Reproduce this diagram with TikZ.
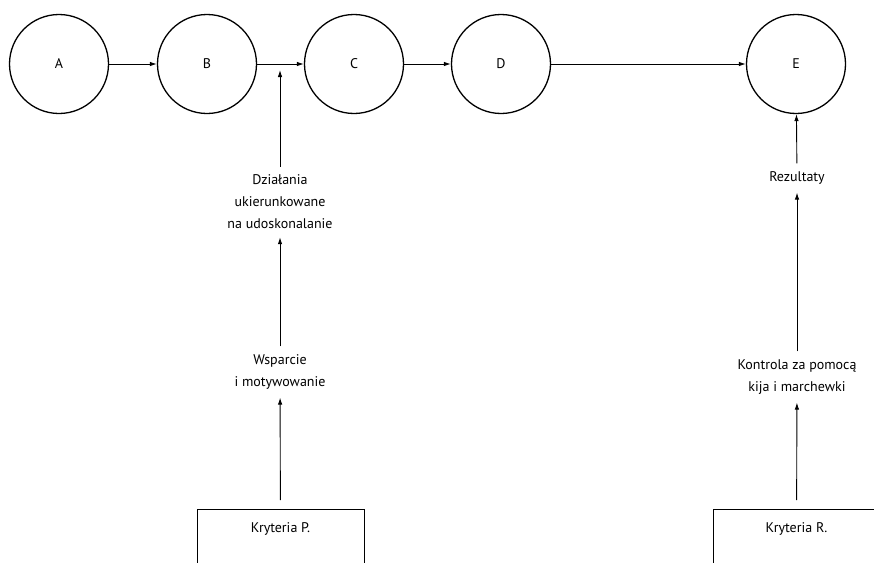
\documentclass[tikz,border=0pt]{standalone}
\usepackage{fontspec}
\setmainfont{PT Sans}
\usetikzlibrary{arrows.meta}

\begin{document}
\begin{tikzpicture}[x=1pt, y=-1pt,
    font=\fontsize{14}{22}\selectfont,
    stage/.style={draw, circle, line width=1.3pt, minimum size=99pt, inner sep=0pt},
    lbl/.style={align=center, inner sep=8pt},
    crit/.style={draw, line width=0.9pt, anchor=north, minimum width=167pt,
      inner ysep=13pt, text depth=24pt},
    link/.style={-{Latex[length=7pt,width=4.5pt]}, line width=0.9pt}]
  % page size and cut of the boxes at the bottom
  \useasboundingbox (0,0) rectangle (874,562);
  \clip (0,0) rectangle (874,562);

  % the stages
  \node[stage] (A) at (59,64) {A};
  \node[stage] (B) at (207,64) {B};
  \node[stage] (C) at (354,64) {C};
  \node[stage] (D) at (501,64) {D};
  \node[stage] (E) at (796,64) {E};

  \draw[link] (A) -- (B);
  \draw[link] (B) -- (C);
  \draw[link] (C) -- (D);
  \draw[link] (D) -- (E);

  % left column
  \coordinate (bc) at (280,70);
  \node[lbl] (dzial) at (280,202) {Działania\\ukierunkowane\\na udoskonalanie};
  \node[lbl] (wsp) at (280,372) {Wsparcie\\i motywowanie};
  \node[crit] (critP) at (280.5,509) {Kryteria P.};

  \draw[link] (dzial) -- (bc);
  \draw[link] (wsp) -- (dzial);
  \draw[link, shorten <=9pt] (critP) -- (wsp);

  % right column
  \node[lbl] (rez) at (797,178) {Rezultaty};
  \node[lbl] (kontr) at (797,377) {Kontrola za pomocą\\kija i marchewki};
  \node[crit] (critR) at (796.5,509) {Kryteria R.};

  \draw[link] (rez) -- (E);
  \draw[link] (kontr) -- (rez);
  \draw[link, shorten <=9pt] (critR) -- (kontr);
\end{tikzpicture}
\end{document}
